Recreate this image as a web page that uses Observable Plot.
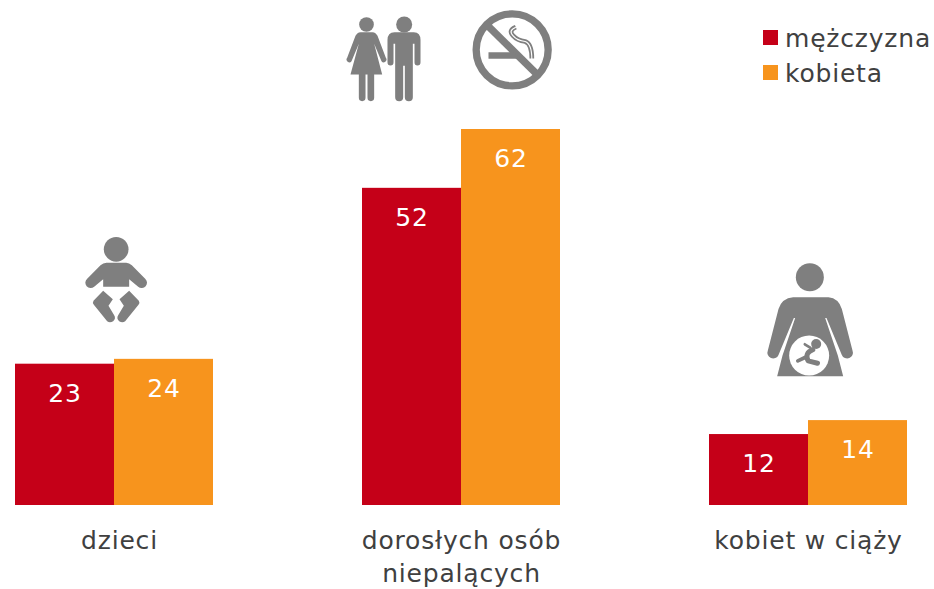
<!DOCTYPE html>
<html lang="pl">
<head>
<meta charset="utf-8">
<style>
html,body{margin:0;padding:0;background:#fff;overflow:hidden}
#wrap{position:relative;width:934px;height:589px;font-family:"DejaVu Sans",sans-serif;color:#404040;letter-spacing:.8px}
#wrap svg{display:block}
.lg{position:absolute;left:763px;font-size:25px;line-height:30px;display:flex;align-items:center;white-space:nowrap}
.lg i{display:block;width:15px;height:15px;margin-right:7px}
.lg span{position:relative;top:1.5px}
</style>
<script src="https://cdn.jsdelivr.net/npm/d3@7"></script>
<script src="https://cdn.jsdelivr.net/npm/@observablehq/plot@0.6"></script>
</head>
<body>
<div id="wrap"></div>
<script>
const groups = ["dzieci", "dorosłych osób\nniepalących", "kobiet w ciąży"];
const sexes = ["mężczyzna", "kobieta"];
const colors = ["#c50018", "#f7941d"];
// Bar heights; labels show them rounded.
const men = [23.3, 52.3, 11.7];
const women = [24.1, 62, 14];
const iconGrey = "#7f7f7f";

const rows = groups.flatMap((g, i) => [
  {group: g, sex: sexes[0], value: men[i]},
  {group: g, sex: sexes[1], value: women[i]}
]);

const svgUri = (w, h, body) => "data:image/svg+xml;charset=utf-8," + encodeURIComponent(
  `<svg xmlns="http://www.w3.org/2000/svg" viewBox="0 0 ${w*3} ${h*3}" width="${w}" height="${h}"><defs><filter id="b" x="-5%" y="-5%" width="110%" height="110%"><feGaussianBlur stdDeviation="1.4"/></filter></defs><g filter="url(#b)" fill="${iconGrey}" stroke="none">${body}</g></svg>`);

const babyIcon = svgUri(90, 105, `
<circle cx="137" cy="72" r="37"/>
<path d="M108 112H167Q176 112 184 120L224 160A15 15 0 0 1 203 184L176 162V184H98V162L71 184A15 15 0 0 1 50 160L90 120Q98 112 108 112Z"/>
<path d="M98 196L69 226Q65 232 70 238L110 288Q118 294 128 288Q137 280 131 270L114 241L127 222Z"/>
<path d="M176 196L205 226Q209 232 204 238L164 288Q156 294 146 288Q137 280 143 270L160 241L147 222Z"/>`);

const coupleIcon = svgUri(240, 110, `
<circle cx="108" cy="72" r="22"/>
<path d="M90 95H126Q136 96 141 106L166 172A7 7 0 0 1 153 182L131 130L155 222H131V292A10 10 0 0 1 111 292V222H105V292A10 10 0 0 1 85 292V222H60L85 130L63 182A7 7 0 0 1 50 172L75 106Q80 96 90 95Z"/>
<circle cx="221" cy="72" r="24"/>
<path d="M192 95H250Q270 96 270 118V186A9 9 0 0 1 252 186V130H247V290A12 12 0 0 1 223 290V196H218V290A12 12 0 0 1 194 290V130H189V186A9 9 0 0 1 171 186V118Q171 96 192 95Z"/>
<g fill="none" stroke="${iconGrey}">
<circle cx="545" cy="148" r="108" stroke-width="22"/>
<path d="M470 74L622 224" stroke-width="22"/>
</g>
<path d="M474 155H550L572 175H474Z"/>
<path fill="none" stroke="${iconGrey}" stroke-width="14" d="M556 80Q532 90 548 106Q560 120 584 123Q604 130 604 174"/>
<path fill="none" stroke="#fff" stroke-width="3.5" d="M556 80Q532 90 548 106Q560 120 584 123Q604 130 604 176"/>`);

const pregnantIcon = svgUri(110, 130, `
<circle cx="163" cy="65" r="42"/>
<path d="M113 125H219Q249 128 259 160L291 285A17 17 0 0 1 259 298L213 187H209L247 300L263 362H65L81 300L119 187H115L69 298A17 17 0 0 1 37 285L69 160Q79 128 113 125Z"/>
<circle cx="161" cy="300" r="60" fill="#fff"/>
<circle cx="182" cy="265" r="15"/>
<g fill="none" stroke="${iconGrey}" stroke-linecap="round" stroke-linejoin="round">
<path d="M172 282Q146 292 158 316L186 323" stroke-width="15"/>
<path d="M150 305L127 316" stroke-width="11"/>
<path d="M164 276L148 266" stroke-width="8"/>
</g>`);

const icon = (groupIndex, src, w, h, dx, dy) => Plot.image(
  [{group: groups[groupIndex], value: Math.max(men[groupIndex], women[groupIndex])}],
  {fx: "group", y: "value", frameAnchor: "middle", src: () => src, width: w, height: h, dx, dy, preserveAspectRatio: "none"}
);

const axisBase = {anchor: "bottom", tickSize: 0, tickPadding: 20, label: null, fontSize: 25, lineHeight: 1.32, fill: "#404040", color: "#404040"};

const chart = Plot.plot({
  width: 934,
  height: 589,
  marginTop: 129,
  marginBottom: 84,
  marginLeft: 15,
  marginRight: 27,
  style: {fontFamily: "'DejaVu Sans', sans-serif", background: "transparent", overflow: "visible", letterSpacing: "0.8px"},
  fx: {domain: groups, paddingInner: 0.4294, paddingOuter: 0, label: null, axis: null},
  x: {domain: sexes, padding: 0, axis: null, label: null},
  y: {domain: [0, 62], axis: null, label: null},
  color: {domain: sexes, range: colors},
  marks: [
    Plot.barY(rows, {fx: "group", x: "sex", y: "value", fill: "sex"}),
    Plot.text(rows, {fx: "group", x: "sex", y: "value", text: d => d3.format(".0f")(d.value), fill: "#fff", fontSize: 25, dy: 29.5, lineAnchor: "middle"}),
    Plot.axisFx({...axisBase, ticks: groups.slice(0, 1), dx: 5}),
    Plot.axisFx({...axisBase, ticks: groups.slice(1)}),
    icon(0, babyIcon, 90, 105, 1, -81.5),
    icon(1, coupleIcon, 240, 110, -11, -74),
    icon(2, pregnantIcon, 110, 130, 2, -100)
  ]
});

const wrap = document.getElementById("wrap");
wrap.appendChild(chart);
sexes.forEach((s, i) => {
  const d = document.createElement("div");
  d.className = "lg";
  d.style.top = (22 + i * 35) + "px";
  const sw = document.createElement("i");
  sw.style.background = colors[i];
  d.appendChild(sw);
  const t = document.createElement("span");
  t.textContent = s;
  d.appendChild(t);
  wrap.appendChild(d);
});
</script>
</body>
</html>
